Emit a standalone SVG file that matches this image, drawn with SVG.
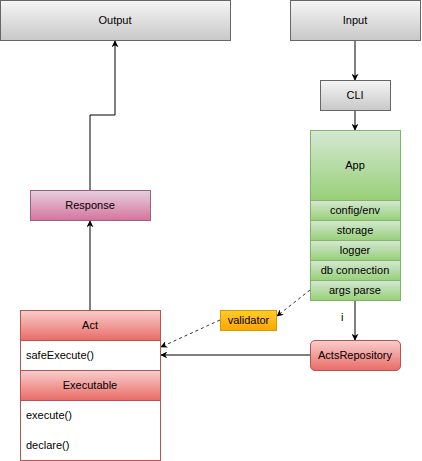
<svg xmlns="http://www.w3.org/2000/svg" width="422" height="461" viewBox="0 0 422 461">
<defs>
<linearGradient id="gGray" x1="0" y1="0" x2="0" y2="1"><stop offset="0" stop-color="#f5f5f5"/><stop offset="1" stop-color="#c8c8c8"/></linearGradient>
<linearGradient id="gGreen" x1="0" y1="0" x2="0" y2="1"><stop offset="0" stop-color="#d5e8d4"/><stop offset="1" stop-color="#97d077"/></linearGradient>
<linearGradient id="gPink" x1="0" y1="0" x2="0" y2="1"><stop offset="0" stop-color="#e6d0de"/><stop offset="1" stop-color="#d5739d"/></linearGradient>
<linearGradient id="gRed" x1="0" y1="0" x2="0" y2="1"><stop offset="0" stop-color="#f8cecc"/><stop offset="1" stop-color="#ea6b66"/></linearGradient>
<linearGradient id="gOrange" x1="0" y1="0" x2="0" y2="1"><stop offset="0" stop-color="#ffcd28"/><stop offset="1" stop-color="#ffa500"/></linearGradient>
<marker id="arr" viewBox="0 0 10 10" refX="9" refY="5" markerWidth="7" markerHeight="7" orient="auto" markerUnits="userSpaceOnUse"><path d="M0,0 L10,5 L0,10 L3,5 z" fill="#000"/></marker>
</defs>
<style>
text{font-family:"Liberation Sans",Arial,sans-serif;font-size:11px;fill:#000}
.c{text-anchor:middle}
.gray{fill:url(#gGray);stroke:#666;stroke-width:1}
.green{fill:url(#gGreen);stroke:#82b366;stroke-width:1}
.pink{fill:url(#gPink);stroke:#996185;stroke-width:1}
.red{fill:url(#gRed);stroke:#b85450;stroke-width:1}
.white{fill:#fff;stroke:#b85450;stroke-width:1}
.orange{fill:url(#gOrange);stroke:#d79b00;stroke-width:1}
.edge{fill:none;stroke:#000;stroke-width:1;marker-end:url(#arr)}
.dash{stroke:#333;stroke-dasharray:3,3}
</style>
<rect width="422" height="461" fill="#fff"/>
<g id="connectors">
<path class="edge" d="M355,40 L355,80"/>
<path class="edge" d="M355,110 L355,130"/>
<path class="edge" d="M355,300 L355,340"/>
<text x="341" y="321">i</text>
<path class="edge" d="M310,355 L161,355"/>
<path class="edge" d="M90,310 L90,221"/>
<path class="edge" d="M90,190 L90,115 L115,115 L115,41"/>
<path class="edge dash" d="M310,290 L277,316"/>
<path class="edge dash" d="M220,320 L161,347"/>
</g>
<g id="output"><rect class="gray" x="0.5" y="0.5" width="230" height="40"/><text class="c" x="115" y="24">Output</text></g>
<g id="input"><rect class="gray" x="290.5" y="0.5" width="130" height="40"/><text class="c" x="355" y="24">Input</text></g>
<g id="cli"><rect class="gray" x="320.5" y="80.5" width="70" height="30"/><text class="c" x="355" y="99">CLI</text></g>
<g id="app">
<rect class="green" x="310.5" y="130.5" width="90" height="70"/><text class="c" x="355" y="169">App</text>
<rect class="green" x="310.5" y="200.5" width="90" height="20"/><text class="c" x="355" y="214">config/env</text>
<rect class="green" x="310.5" y="220.5" width="90" height="20"/><text class="c" x="355" y="234">storage</text>
<rect class="green" x="310.5" y="240.5" width="90" height="20"/><text class="c" x="355" y="254">logger</text>
<rect class="green" x="310.5" y="260.5" width="90" height="20"/><text class="c" x="355" y="274">db connection</text>
<rect class="green" x="310.5" y="280.5" width="90" height="20"/><text class="c" x="355" y="294">args parse</text>
</g>
<g id="response"><rect class="pink" x="30.5" y="190.5" width="120" height="30"/><text class="c" x="90" y="209">Response</text></g>
<g id="validator"><rect class="orange" x="220.5" y="310.5" width="56" height="20"/><text class="c" x="248.5" y="324">validator</text></g>
<g id="actsRepository"><rect class="red" x="310.5" y="340.5" width="90" height="30" rx="4.5"/><text class="c" x="355" y="359">ActsRepository</text></g>
<g id="act">
<rect class="red" x="20.5" y="310.5" width="140" height="30"/><text class="c" x="90" y="329">Act</text>
<rect class="white" x="20.5" y="340.5" width="140" height="30"/><text x="26" y="359">safeExecute()</text>
<rect class="red" x="20.5" y="370.5" width="140" height="30"/><text class="c" x="90" y="389">Executable</text>
<rect class="white" x="20.5" y="400.5" width="140" height="60"/><text x="26" y="419">execute()</text><text x="26" y="449">declare()</text>
</g>
</svg>
